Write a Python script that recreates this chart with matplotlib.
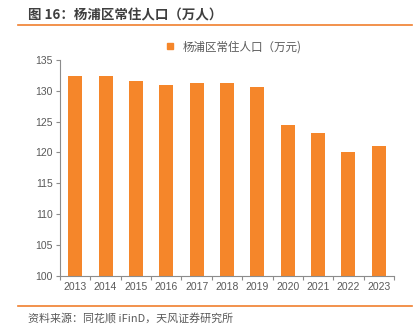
import matplotlib
matplotlib.use("Agg")
import matplotlib.pyplot as plt
from matplotlib.lines import Line2D
import numpy as np

plt.rcParams["font.family"] = ["Liberation Sans", "Noto Sans CJK SC", "DejaVu Sans"]

years = ["2013", "2014", "2015", "2016", "2017", "2018", "2019", "2020", "2021", "2022", "2023"]
population = [132.45, 132.35, 131.6, 131.0, 131.3, 131.3, 130.55, 124.5, 123.1, 120.0, 121.1]
y_ticks = [100, 105, 110, 115, 120, 125, 130, 135]

title = "图 16：杨浦区常住人口（万人）"
legend_label = "杨浦区常住人口（万元)"
source = "资料来源：同花顺 iFinD，天风证券研究所"

bar_color = "#F5862A"
line_color = "#F07F2E"
axis_color = "#8C8C8C"
text_color = "#595959"

W, H = 419, 327
fig = plt.figure(figsize=(W / 100, H / 100), dpi=100)

# axes placed in pixel coordinates of the reference
left, right, top, bottom = 60, 394, 60, 275.5
ax = fig.add_axes([left / W, 1 - bottom / H, (right - left) / W, (bottom - top) / H])

x = np.arange(len(years))
ax.bar(x, population, width=0.46, color=bar_color, zorder=2)
ax.set_xlim(-0.5, len(years) - 0.5)
ax.set_ylim(100, 135)
ax.set_yticks(y_ticks)
ax.set_yticklabels([str(v) for v in y_ticks])
ax.set_xticks(x)
ax.set_xticklabels(years)
ax.set_xticks(np.arange(len(years) + 1) - 0.5, minor=True)

for side in ("top", "right"):
    ax.spines[side].set_visible(False)
for side in ("left", "bottom"):
    ax.spines[side].set_color(axis_color)
    ax.spines[side].set_linewidth(0.8)

ax.tick_params(axis="y", colors=axis_color, labelcolor=text_color, labelsize=7.5,
               length=3, width=0.8, pad=2)
ax.tick_params(axis="x", which="major", length=0, labelcolor=text_color, labelsize=7.5, pad=5)
ax.tick_params(axis="x", which="minor", length=3, width=0.8, colors=axis_color)

handle = Line2D([], [], marker="s", linestyle="none", color=bar_color, markersize=4.5)
fig.legend([handle], [legend_label], loc="center", bbox_to_anchor=(230 / W, 1 - 47 / H),
           frameon=False, handletextpad=0.1, labelcolor=text_color,
           prop={"family": ["Noto Sans CJK SC"], "size": 8.3})

fig.text(28 / W, 1 - 15 / H, title, fontsize=9.7, fontweight="bold", color="#3F3F3F",
         va="center", ha="left", family=["Noto Sans CJK SC", "DejaVu Sans"])
fig.add_artist(Line2D([18 / W, 412 / W], [1 - 25 / H, 1 - 25 / H], color=line_color, lw=1.2))
fig.add_artist(Line2D([18 / W, 412 / W], [1 - 306 / H, 1 - 306 / H], color=line_color, lw=1.2))
fig.text(28 / W, 1 - 318 / H, source, fontsize=7.9, color=text_color,
         va="center", ha="left", family=["Noto Sans CJK SC", "DejaVu Sans"])

fig.savefig("out.png", dpi=100)
plt.close(fig)
